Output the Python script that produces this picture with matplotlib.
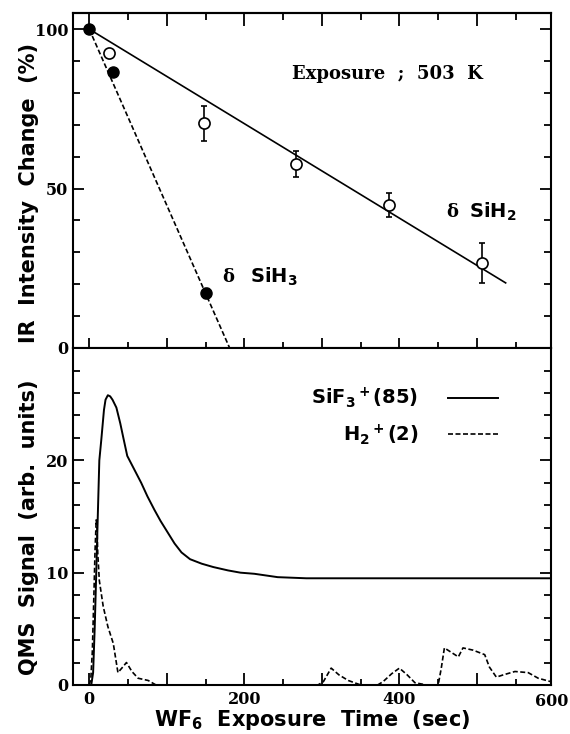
import numpy as np
import matplotlib.pyplot as plt
from matplotlib.ticker import MultipleLocator
from matplotlib.transforms import blended_transform_factory

plt.rcParams['mathtext.fontset'] = 'custom'
plt.rcParams['mathtext.rm'] = 'DejaVu Sans:bold'
plt.rcParams['mathtext.bf'] = 'DejaVu Sans:bold'
plt.rcParams['mathtext.default'] = 'bf'

# top panel: IR intensity change
sih2_t = [25, 148, 267, 387, 506]
sih2_val = [92.5, 70.5, 57.7, 44.8, 26.6]
sih2_err = [0, 5.5, 4.2, 3.8, 6.2]
sih3_t = [0, 30, 150]
sih3_val = [100, 86.5, 17.3]
sih3_err = [0, 0, 1.5]
sih2_fit_t = [0, 537]
sih2_fit = [100, 20.4]
sih3_fit_t = [0, 181]
sih3_fit = [100, 0]

# bottom panel: QMS signal
sif3_t = [2.6, 5, 7, 9, 11, 13, 15.5, 19, 21, 24, 27, 30, 35, 40, 44, 49, 58, 67, 75, 84, 92,
          101, 110, 119, 130, 145, 160, 179, 195, 213, 243, 280, 350, 450, 595]
sif3_v = [0, 1.1, 5, 9.9, 15, 20, 21.8, 24.5, 25.4, 25.8, 25.7, 25.4, 24.7, 23.3, 22, 20.4,
          19.2, 18, 16.8, 15.6, 14.6, 13.6, 12.6, 11.8, 11.2, 10.8, 10.5, 10.2, 10.0, 9.9,
          9.6, 9.5, 9.5, 9.5, 9.5]
h2_t = [0, 2, 4, 6, 7.5, 9, 10, 11, 13, 18, 24, 31, 37, 42, 48, 55, 63, 76, 86, 150, 250,
        295, 302, 312, 322, 334, 350, 372, 379, 390, 400, 410, 420, 435, 450, 454, 458,
        467, 476, 482, 495, 510, 516, 525, 534, 549, 566, 579, 595]
h2_v = [0, 0.5, 3, 8, 12, 14.7, 14, 11.7, 9.3, 7, 5.2, 3.7, 1.1, 1.5, 2.0, 1.2, 0.6, 0.4,
        0, 0, 0, 0, 0.3, 1.5, 0.9, 0.4, 0, 0, 0.3, 1.0, 1.5, 0.9, 0.2, 0, 0, 1.5, 3.3, 2.9,
        2.5, 3.3, 3.1, 2.7, 1.6, 0.7, 0.9, 1.2, 1.1, 0.6, 0.3]

serif = 'DejaVu Serif'
sans = 'DejaVu Sans'
tick_fs = 11.5
lab_fs = 15

fig = plt.figure(figsize=(5.7, 7.34), dpi=100)
ax1 = fig.add_axes([0.128, 0.526, 0.838, 0.456])
ax2 = fig.add_axes([0.128, 0.0668, 0.838, 0.459])


def style_labels(ax):
    for lab in ax.get_yticklabels() + ax.get_xticklabels():
        lab.set_fontfamily(serif)
        lab.set_fontweight('bold')
        lab.set_fontsize(tick_fs)


for ax in (ax1, ax2):
    for s in ax.spines.values():
        s.set_linewidth(1.5)
    ax.set_xlim(-21, 595)
    ax.xaxis.set_major_locator(MultipleLocator(100))
    ax.xaxis.set_minor_locator(MultipleLocator(50))
    ax.tick_params(axis='y', which='both', direction='in', left=True, right=True, width=1.3)
    ax.tick_params(axis='y', which='major', length=8)
    ax.tick_params(axis='y', which='minor', length=5)

# ---- top
ax1.plot(sih2_fit_t, sih2_fit, 'k-', lw=1.2)
ax1.plot(sih3_fit_t, sih3_fit, 'k', ls=(0, (3, 1.5)), lw=1.2)
ax1.errorbar(sih2_t, sih2_val, yerr=sih2_err, fmt='o', mfc='white', mec='k', ecolor='k',
             ms=8, mew=1.2, elinewidth=1.2, capsize=2)
ax1.errorbar(sih3_t, sih3_val, yerr=sih3_err, fmt='o', mfc='k', mec='k', ecolor='k',
             ms=8, elinewidth=1.2, capsize=2)
ax1.set_ylim(0, 105)
ax1.set_yticks([0, 50, 100])
ax1.yaxis.set_minor_locator(MultipleLocator(10))
ax1.tick_params(axis='x', which='both', direction='inout', labelbottom=False, width=1.3)
ax1.tick_params(axis='x', which='major', length=14)
ax1.tick_params(axis='x', which='minor', length=9)
top = ax1.secondary_xaxis('top')
top.xaxis.set_major_locator(MultipleLocator(100))
top.xaxis.set_minor_locator(MultipleLocator(50))
top.tick_params(axis='x', which='both', direction='in', labeltop=False, width=1.3)
top.tick_params(axis='x', which='major', length=9)
top.tick_params(axis='x', which='minor', length=5)
top.spines['top'].set_linewidth(1.5)
style_labels(ax1)
ax1.set_ylabel('IR  Intensity  Change  (%)', fontfamily=sans, fontweight='bold', fontsize=lab_fs)
ax1.yaxis.set_label_coords(-0.072, 0.463)
ax1.text(262, 86, 'Exposure  ;  503  K', fontfamily=serif, fontweight='bold', fontsize=13,
         va='center')
ax1.text(460, 42.6, 'δ', fontfamily=serif, fontweight='bold', fontsize=13, va='center')
ax1.text(490, 42.6, 'SiH$_2$', fontfamily=sans, fontweight='bold', fontsize=14, va='center')
ax1.text(172, 22.3, 'δ', fontfamily=serif, fontweight='bold', fontsize=13, va='center')
ax1.text(207, 22.3, 'SiH$_3$', fontfamily=sans, fontweight='bold', fontsize=14, va='center')

# ---- bottom
ax2.plot(sif3_t, sif3_v, 'k-', lw=1.4, label='SiF$_3$$^+$(85)')
ax2.plot(h2_t, h2_v, 'k', ls=(0, (3, 1.5)), lw=1.2, label='H$_2$$^+$(2)')
ax2.set_ylim(0, 30)
ax2.set_yticks([0, 10, 20])
ax2.yaxis.set_minor_locator(MultipleLocator(2))
ax2.tick_params(axis='x', which='both', direction='in', top=False, width=1.3)
ax2.tick_params(axis='x', which='major', length=9, pad=4)
ax2.tick_params(axis='x', which='minor', length=4)
ax2.set_xticks([0, 100, 200, 300, 400, 500])
ax2.set_xticklabels(['0', '', '200', '', '400', ''])
style_labels(ax2)
trans = blended_transform_factory(ax2.transData, ax2.transAxes)
ax2.text(597, -0.025, '600', transform=trans, ha='center', va='top',
         fontfamily=serif, fontweight='bold', fontsize=tick_fs)
ax2.set_ylabel('QMS  Signal  (arb.  units)', fontfamily=sans, fontweight='bold', fontsize=lab_fs)
ax2.yaxis.set_label_coords(-0.072, 0.469)
ax2.set_xlabel('WF$_6$  Exposure  Time  (sec)', fontfamily=sans, fontweight='bold',
               fontsize=lab_fs, labelpad=0)
ax2.legend(loc='upper right', bbox_to_anchor=(0.89, 0.888), frameon=False, markerfirst=False,
           prop={'family': sans, 'weight': 'bold', 'size': 14}, handlelength=2.6,
           borderaxespad=0, borderpad=0, labelspacing=0.6, handletextpad=1.5)

plt.savefig('out.png', dpi=100)
